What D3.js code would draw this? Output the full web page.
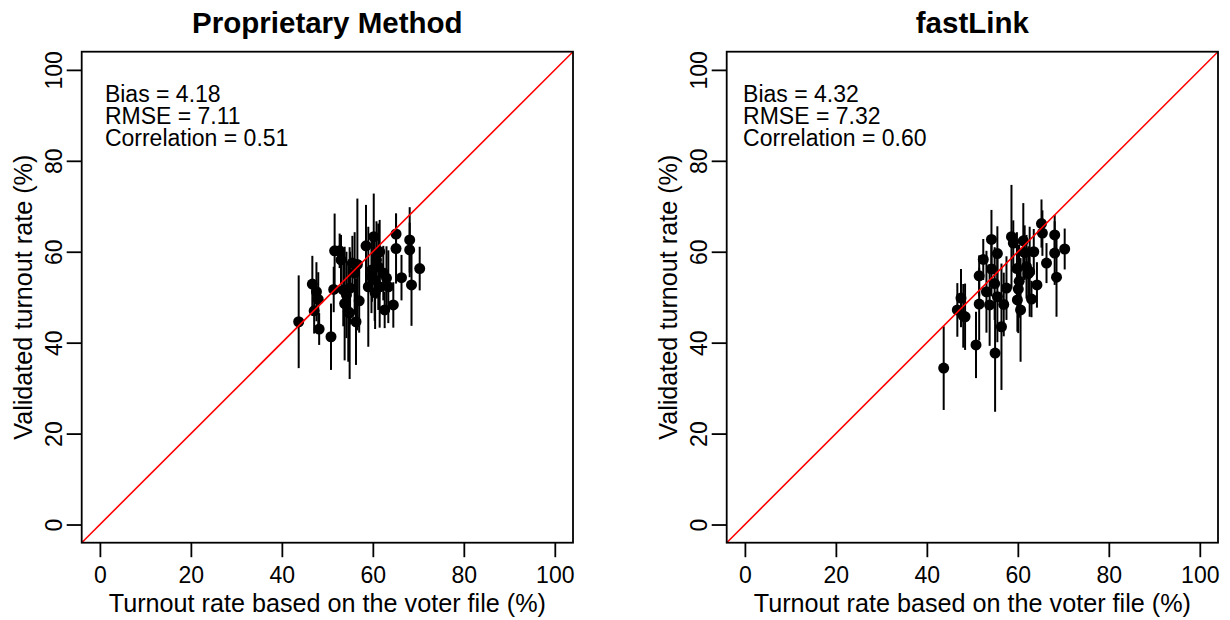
<!DOCTYPE html>
<html>
<head>
<meta charset="utf-8">
<script src="https://cdn.jsdelivr.net/npm/d3@7"></script>
<style>
  body { margin: 0; background: #fff; }
  svg text { font-family: "Liberation Sans", Arial, Helvetica, sans-serif; fill: #000; }
</style>
</head>
<body>
<div id="chart"></div>
<script>
// turnout by voter file (x), validated turnout (y), half-width of interval (err)
var propX = [43.7, 46.7, 47.6, 48.0, 47.1, 48.2, 50.8, 51.6, 52.7, 53.0, 51.4, 53.5, 54.2, 53.8, 54.6,
             54.9, 55.5, 56.0, 56.3, 57.0, 58.5, 60.2, 59.0, 59.7, 60.4, 60.8, 61.2, 61.5, 61.5, 62.3,
             63.0, 63.4, 62.6, 64.5, 65.1, 65.1, 66.3, 68.1, 68.1, 68.5, 70.3, 56.6, 55.0, 59.8, 60.5];
var propY = [44.6, 52.9, 51.2, 49.5, 47.0, 43.0, 41.3, 60.2, 60.2, 58.2, 51.7, 51.6, 50.5, 48.6, 46.8,
             46.5, 57.5, 55.3, 44.6, 49.2, 61.3, 63.3, 52.3, 54.5, 53.8, 58.2, 56.7, 60.0, 52.3, 55.3,
             54.2, 52.3, 47.2, 48.3, 63.9, 60.7, 54.3, 62.6, 60.4, 52.7, 56.3, 57.2, 52.0, 56.0, 51.0];
var propErr = [10.2, 6.2, 6.5, 6.0, 5.0, 3.5, 7.3, 8.2, 3.8, 5.5, 5.0, 8.0, 9.5, 12.5, 11.0,
               14.5, 6.0, 9.0, 9.5, 7.0, 9.0, 9.5, 13.2, 8.0, 9.0, 8.5, 9.5, 7.0, 9.0, 6.0,
               7.0, 8.0, 4.0, 5.0, 4.5, 7.7, 5.0, 7.2, 6.0, 9.0, 4.8, 14.5, 8.0, 7.0, 8.0];

var flX = [43.7, 46.7, 47.5, 48.0, 48.4, 50.8, 51.5, 51.5, 52.4, 54.2, 54.2, 54.9, 53.1, 53.8, 55.0,
           55.5, 55.5, 56.4, 56.9, 58.6, 59.0, 59.8, 60.1, 59.9, 60.6, 61.2, 61.5, 61.9, 62.3, 62.6,
           63.0, 63.5, 64.2, 65.2, 65.4, 66.3, 68.1, 68.1, 68.5, 70.3, 60.3, 57.5];
var flY = [34.4, 47.2, 49.8, 45.9, 45.7, 39.5, 54.7, 48.5, 58.3, 62.7, 56.2, 53.0, 51.2, 48.3, 37.7,
           59.6, 50.1, 43.5, 48.4, 63.3, 61.9, 56.3, 51.8, 49.4, 47.2, 62.4, 59.8, 56.7, 55.2, 55.6,
           49.6, 60.0, 52.7, 66.2, 64.1, 57.5, 63.7, 59.7, 54.4, 60.6, 53.5, 52.0];
var flErr = [9.2, 5.9, 6.4, 7.0, 7.3, 7.3, 4.5, 8.0, 4.5, 6.5, 6.0, 8.0, 9.0, 9.0, 12.9,
             6.0, 10.0, 13.9, 7.0, 11.4, 5.0, 8.0, 9.7, 7.0, 11.4, 8.3, 6.0, 7.0, 6.0, 9.9,
             4.0, 5.0, 5.0, 5.3, 5.0, 4.4, 4.4, 7.0, 8.7, 4.5, 8.0, 7.0];

var panelTitles = ["Proprietary Method", "fastLink"];
var propStats = ["Bias = 4.18", "RMSE = 7.11", "Correlation = 0.51"];
var flStats = ["Bias = 4.32", "RMSE = 7.32", "Correlation = 0.60"];
var statX = [1.1, -0.4];
var statY = [93.0, 88.1, 83.2];
var tickVals = [0, 20, 40, 60, 80, 100];
var xLabel = "Turnout rate based on the voter file (%)";
var yLabel = "Validated turnout rate (%)";

var width = 1230, height = 620;
var svg = d3.select("#chart").append("svg")
    .attr("width", width)
    .attr("height", height);

var box = {left: 81.7, right: 573, top: 51.7, bottom: 542.7};
var panelShift = 645;

var x = d3.scaleLinear().domain([-4, 104]).range([box.left, box.right]);
var y = d3.scaleLinear().domain([-4, 104]).range([box.bottom, box.top]);

function drawPanel(i, xs, ys, errs, stats) {
    var g = svg.append("g").attr("transform", "translate(" + (i * panelShift) + ",0)");
    var pts = xs.map(function (d, k) { return {x: d, y: ys[k], e: errs[k]}; });

    g.append("clipPath").attr("id", "clip" + i)
        .append("rect")
        .attr("x", box.left).attr("y", box.top)
        .attr("width", box.right - box.left).attr("height", box.bottom - box.top);

    // error bars
    g.selectAll("line.err")
        .data(pts)
        .enter()
        .append("line")
        .attr("class", "err")
        .attr("x1", function (d) { return x(d.x); })
        .attr("x2", function (d) { return x(d.x); })
        .attr("y1", function (d) { return y(d.y - d.e); })
        .attr("y2", function (d) { return y(d.y + d.e); })
        .attr("stroke", "#000")
        .attr("stroke-width", 2);

    g.selectAll("circle")
        .data(pts)
        .enter()
        .append("circle")
        .attr("cx", function (d) { return x(d.x); })
        .attr("cy", function (d) { return y(d.y); })
        .attr("r", 5.5)
        .attr("fill", "#000");

    // 45 degree line
    g.append("line")
        .attr("clip-path", "url(#clip" + i + ")")
        .attr("x1", x(-4)).attr("y1", y(-4))
        .attr("x2", x(104)).attr("y2", y(104))
        .attr("stroke", "#ff0000")
        .attr("stroke-width", 1.6);

    // box
    g.append("rect")
        .attr("x", box.left).attr("y", box.top)
        .attr("width", box.right - box.left).attr("height", box.bottom - box.top)
        .attr("fill", "none")
        .attr("stroke", "#000")
        .attr("stroke-width", 1.8);

    var xAxis = g.append("g")
        .attr("transform", "translate(0," + box.bottom + ")")
        .call(d3.axisBottom(x).tickValues(tickVals).tickSize(14.5).tickFormat(d3.format("d")));
    xAxis.select(".domain").remove();
    xAxis.selectAll(".tick line").attr("stroke", "#000").attr("stroke-width", 1.8);
    xAxis.selectAll(".tick text")
        .attr("y", 40.5).attr("dy", null)
        .style("font-size", "23px");

    var yAxis = g.append("g")
        .attr("transform", "translate(" + box.left + ",0)")
        .call(d3.axisLeft(y).tickValues(tickVals).tickSize(15).tickFormat(d3.format("d")));
    yAxis.select(".domain").remove();
    yAxis.selectAll(".tick line").attr("stroke", "#000").attr("stroke-width", 1.8);
    yAxis.selectAll(".tick text")
        .attr("x", null).attr("dy", null)
        .attr("text-anchor", "middle")
        .attr("transform", "translate(-20,0) rotate(-90)")
        .style("font-size", "23px");

    g.append("text")
        .attr("x", (box.left + box.right) / 2)
        .attr("y", 612)
        .attr("text-anchor", "middle")
        .style("font-size", "25.2px")
        .text(xLabel);

    g.append("text")
        .attr("transform", "translate(" + (box.left - 50.2) + "," + ((box.top + box.bottom) / 2) + ") rotate(-90)")
        .attr("text-anchor", "middle")
        .style("font-size", "25.2px")
        .text(yLabel);

    g.append("text")
        .attr("x", (box.left + box.right) / 2)
        .attr("y", 33.3)
        .attr("text-anchor", "middle")
        .style("font-size", "29.5px")
        .style("font-weight", "bold")
        .text(panelTitles[i]);

    g.selectAll("text.stat")
        .data(stats)
        .enter()
        .append("text")
        .attr("class", "stat")
        .attr("x", x(statX[i]))
        .attr("y", function (d, k) { return y(statY[k]); })
        .style("font-size", "23px")
        .text(function (d) { return d; });
}

drawPanel(0, propX, propY, propErr, propStats);
drawPanel(1, flX, flY, flErr, flStats);
</script>
</body>
</html>
